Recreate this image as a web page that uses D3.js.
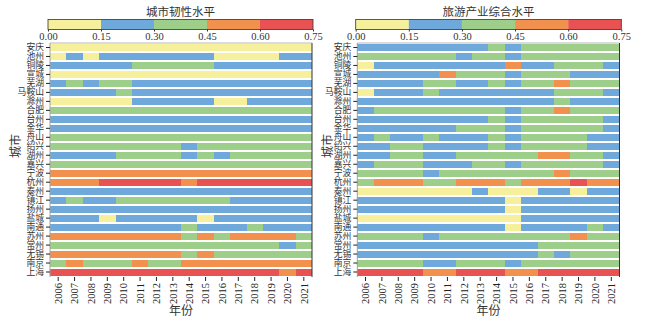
<!DOCTYPE html>
<html lang="zh">
  <head>
    <meta charset="utf-8" />
    <title>城市韧性与旅游产业</title>
    <style>
      body {
        margin: 0;
        background: #fff;
      }
      svg {
        display: block;
        font-family: "Liberation Serif", "Noto Sans CJK SC", serif;
      }
    </style>
  </head>
  <body>
    <svg width="650" height="322"></svg>
    <script src="https://d3js.org/d3.v7.min.js"></script>
    <script>
      const years = d3.range(2006, 2022).map(String);
      const cities = ["安庆", "池州", "铜陵", "宣城", "芜湖", "马鞍山", "滁州", "合肥", "台州", "金华", "舟山", "绍兴", "湖州", "嘉兴", "宁波", "杭州", "泰州", "镇江", "扬州", "盐城", "南通", "苏州", "常州", "无锡", "南京", "上海"];
      const levelBreaks = [0.15, 0.3, 0.45, 0.6];
      const levelColors = ["#f6ef9b", "#6fa9dc", "#9ecf8a", "#f2914d", "#e95252"];
      const colorTicks = [0, 0.15, 0.3, 0.45, 0.6, 0.75];

      // 城市韧性水平, one row per city, 2006-2021
      const resilience = [
        [.10,.10,.10,.10,.10,.10,.10,.10,.10,.10,.10,.10,.10,.10,.10,.10],
        [.10,.23,.10,.23,.23,.23,.23,.23,.23,.23,.10,.10,.10,.10,.23,.23],
        [.23,.23,.23,.23,.23,.37,.37,.37,.37,.37,.23,.23,.23,.23,.23,.23],
        [.10,.10,.10,.10,.10,.10,.10,.10,.10,.10,.10,.10,.10,.10,.10,.10],
        [.23,.37,.23,.37,.37,.23,.23,.23,.23,.23,.23,.23,.23,.23,.23,.23],
        [.23,.23,.23,.23,.37,.23,.23,.23,.23,.23,.23,.23,.23,.23,.23,.23],
        [.10,.10,.10,.10,.10,.23,.23,.23,.23,.23,.10,.10,.23,.23,.23,.23],
        [.37,.37,.37,.37,.37,.37,.37,.37,.37,.37,.37,.37,.37,.37,.37,.37],
        [.23,.23,.23,.23,.23,.23,.23,.23,.23,.23,.23,.23,.23,.23,.23,.23],
        [.23,.23,.23,.23,.23,.23,.23,.23,.23,.23,.23,.23,.23,.23,.23,.23],
        [.37,.37,.37,.37,.37,.37,.37,.37,.37,.37,.37,.37,.37,.37,.37,.37],
        [.37,.37,.37,.37,.37,.37,.37,.37,.23,.37,.37,.37,.37,.37,.37,.37],
        [.23,.23,.23,.23,.37,.37,.37,.37,.23,.37,.23,.37,.37,.37,.37,.37],
        [.37,.37,.37,.37,.37,.37,.37,.37,.37,.37,.37,.37,.37,.37,.37,.37],
        [.52,.52,.52,.52,.52,.52,.52,.52,.52,.52,.52,.52,.52,.52,.52,.52],
        [.52,.52,.52,.66,.66,.66,.66,.66,.52,.66,.66,.66,.66,.66,.66,.66],
        [.23,.23,.23,.23,.23,.23,.23,.23,.23,.23,.23,.23,.23,.23,.23,.23],
        [.23,.37,.23,.23,.37,.37,.37,.37,.37,.37,.37,.23,.23,.23,.23,.23],
        [.23,.23,.23,.23,.23,.23,.23,.23,.23,.23,.23,.23,.23,.23,.23,.23],
        [.23,.23,.23,.10,.23,.23,.23,.23,.23,.10,.23,.23,.23,.23,.23,.23],
        [.23,.23,.23,.23,.23,.23,.23,.23,.37,.23,.23,.23,.37,.23,.23,.23],
        [.52,.52,.52,.52,.52,.52,.52,.52,.37,.52,.37,.52,.52,.52,.52,.37],
        [.37,.37,.37,.37,.37,.37,.37,.37,.37,.37,.37,.37,.37,.37,.23,.37],
        [.52,.52,.52,.52,.52,.52,.52,.52,.37,.52,.37,.37,.37,.37,.37,.37],
        [.37,.52,.37,.37,.37,.52,.37,.37,.52,.52,.52,.52,.52,.52,.52,.52],
        [.66,.66,.66,.66,.66,.66,.66,.66,.66,.66,.66,.66,.66,.66,.52,.66]
      ];

      // 旅游产业综合水平, one row per city, 2006-2021
      const tourism = [
        [.23,.23,.23,.23,.23,.23,.23,.23,.37,.23,.37,.37,.37,.37,.37,.37],
        [.37,.37,.37,.37,.37,.37,.23,.37,.37,.23,.37,.37,.37,.37,.37,.37],
        [.10,.23,.23,.23,.23,.23,.23,.23,.23,.52,.23,.23,.37,.37,.37,.23],
        [.23,.23,.23,.23,.23,.52,.37,.37,.37,.23,.37,.37,.37,.23,.23,.23],
        [.23,.23,.23,.23,.37,.37,.23,.23,.37,.23,.37,.37,.52,.37,.37,.37],
        [.10,.23,.23,.23,.37,.23,.23,.23,.23,.23,.23,.23,.37,.37,.37,.23],
        [.23,.23,.23,.23,.23,.23,.23,.23,.23,.23,.23,.23,.37,.23,.23,.23],
        [.23,.37,.37,.37,.37,.37,.37,.37,.37,.23,.37,.37,.52,.37,.37,.37],
        [.23,.23,.23,.23,.23,.23,.23,.23,.37,.23,.37,.37,.37,.37,.37,.23],
        [.23,.23,.23,.23,.23,.23,.37,.37,.37,.23,.37,.37,.37,.37,.37,.23],
        [.23,.37,.23,.23,.37,.23,.23,.23,.37,.23,.37,.37,.37,.37,.23,.23],
        [.23,.23,.37,.37,.23,.23,.23,.23,.37,.23,.37,.37,.37,.37,.23,.23],
        [.23,.23,.37,.37,.23,.23,.37,.37,.37,.37,.37,.52,.52,.37,.37,.23],
        [.23,.37,.37,.37,.23,.23,.23,.37,.37,.23,.37,.37,.37,.37,.37,.23],
        [.37,.37,.37,.37,.23,.37,.37,.37,.37,.37,.37,.37,.52,.37,.37,.37],
        [.37,.52,.52,.52,.37,.37,.52,.52,.52,.37,.52,.52,.52,.66,.52,.52],
        [.10,.10,.10,.10,.10,.10,.10,.23,.10,.10,.10,.23,.23,.10,.23,.23],
        [.23,.23,.23,.23,.23,.23,.23,.23,.23,.10,.23,.23,.23,.23,.23,.23],
        [.23,.23,.23,.23,.23,.23,.23,.23,.23,.10,.23,.23,.23,.23,.23,.23],
        [.10,.10,.10,.10,.10,.10,.10,.10,.10,.10,.23,.23,.23,.23,.23,.23],
        [.23,.23,.23,.23,.23,.23,.23,.23,.23,.10,.23,.23,.23,.23,.37,.23],
        [.37,.37,.37,.37,.23,.37,.37,.37,.37,.37,.37,.37,.37,.52,.37,.37],
        [.23,.23,.23,.23,.23,.23,.23,.23,.23,.23,.23,.37,.37,.37,.37,.37],
        [.23,.23,.23,.23,.23,.23,.23,.23,.23,.23,.23,.37,.23,.37,.37,.37],
        [.37,.37,.37,.37,.23,.23,.37,.37,.37,.23,.37,.37,.37,.37,.37,.37],
        [.66,.66,.66,.66,.52,.52,.66,.66,.66,.52,.52,.66,.66,.66,.66,.66]
      ];

      const svg = d3.select("svg");
      const color = d3.scaleThreshold().domain(levelBreaks).range(levelColors);
      const serif = "'Liberation Serif', serif";
      const cjk = "'Noto Sans CJK SC', sans-serif";

      drawPanel({
        values: resilience,
        title: "城市韧性水平",
        plotX: [50, 312],
        barX: [48, 313],
        yTitleX: 16,
      });
      drawPanel({
        values: tourism,
        title: "旅游产业综合水平",
        plotX: [357.3, 619.5],
        barX: [355.7, 621.3],
        yTitleX: 328,
      });

      function drawPanel(opt) {
        const top = 43;
        const bottom = 276.5;
        const g = svg.append("g");

        const x = d3.scaleBand().domain(years).range(opt.plotX);
        const y = d3
          .scaleBand()
          .domain(cities)
          .range([top, bottom])
          .paddingInner(0.22)
          .paddingOuter(0.11);

        // cells
        const cells = [];
        opt.values.forEach((row, i) =>
          row.forEach((v, j) =>
            cells.push({ city: cities[i], year: years[j], v: v })
          )
        );
        g.append("g")
          .selectAll("rect")
          .data(cells)
          .join("rect")
          .attr("x", (d) => x(d.year))
          .attr("y", (d) => y(d.city))
          .attr("width", x.bandwidth() + 0.4)
          .attr("height", y.bandwidth())
          .attr("fill", (d) => color(d.v))
          .attr("shape-rendering", "crispEdges");

        // frame
        g.append("line")
          .attr("x1", opt.plotX[0]).attr("x2", opt.plotX[1])
          .attr("y1", top).attr("y2", top)
          .attr("stroke", "#b8b8b8");
        g.append("line")
          .attr("x1", opt.plotX[0]).attr("x2", opt.plotX[0])
          .attr("y1", top).attr("y2", bottom + 0.5)
          .attr("stroke", "#a0a0a0");
        g.append("line")
          .attr("x1", opt.plotX[1]).attr("x2", opt.plotX[1])
          .attr("y1", top).attr("y2", bottom + 0.5)
          .attr("stroke", "#333");

        // y axis
        const yAxis = g
          .append("g")
          .attr("transform", `translate(${opt.plotX[0]},0)`)
          .call(d3.axisLeft(y).tickSize(4).tickPadding(2));
        yAxis.select(".domain").remove();
        yAxis.attr("font-family", cjk);
        yAxis.selectAll("line").attr("stroke", "#222");
        yAxis
          .selectAll("text")
          .attr("font-size", 8.8)
          .attr("fill", "#333");

        g.append("text")
          .attr("transform", `translate(${opt.yTitleX},146) rotate(-90)`)
          .attr("text-anchor", "middle")
          .attr("dy", "0.35em")
          .attr("font-size", 12)
          .attr("fill", "#333")
          .attr("font-family", cjk)
          .text("城市");

        // x axis
        const xAxis = g
          .append("g")
          .attr("transform", `translate(0,${bottom + 0.5})`)
          .call(d3.axisBottom(x).tickSize(4).tickPadding(2));
        xAxis.select(".domain").remove();
        xAxis.attr("font-family", serif);
        xAxis.selectAll("line").attr("stroke", "#222");
        xAxis
          .selectAll("text")
          .attr("font-size", 10.5)
          .attr("fill", "#222")
          .attr("text-anchor", "end")
          .attr("transform", "rotate(-90)")
          .attr("x", -6)
          .attr("y", 0)
          .attr("dy", "0.35em");

        g.append("text")
          .attr("x", (opt.plotX[0] + opt.plotX[1]) / 2)
          .attr("y", 311)
          .attr("text-anchor", "middle")
          .attr("dy", "0.35em")
          .attr("font-size", 12)
          .attr("fill", "#333")
          .attr("font-family", cjk)
          .text("年份");

        // colour bar
        const cb = d3.scaleLinear().domain([0, 0.75]).range(opt.barX);
        const segs = d3.pairs(colorTicks);
        const cbTop = 19.5;
        const cbH = 10;
        g.append("g")
          .selectAll("rect")
          .data(segs)
          .join("rect")
          .attr("x", (d) => cb(d[0]))
          .attr("y", cbTop)
          .attr("width", (d) => cb(d[1]) - cb(d[0]))
          .attr("height", cbH)
          .attr("fill", (d) => color((d[0] + d[1]) / 2));
        g.append("rect")
          .attr("x", opt.barX[0])
          .attr("y", cbTop)
          .attr("width", opt.barX[1] - opt.barX[0])
          .attr("height", cbH)
          .attr("fill", "none")
          .attr("stroke", "#333")
          .attr("stroke-width", 0.8);
        const cbAxis = g
          .append("g")
          .attr("transform", `translate(0,${cbTop + cbH})`)
          .call(
            d3
              .axisBottom(cb)
              .tickValues(colorTicks)
              .tickFormat(d3.format(".2f"))
              .tickSize(2)
              .tickPadding(1)
          );
        cbAxis.select(".domain").remove();
        cbAxis.attr("font-family", serif);
        cbAxis.selectAll("line").attr("stroke", "#333");
        cbAxis.selectAll("text").attr("font-size", 10.5).attr("fill", "#333");

        g.append("text")
          .attr("x", (opt.barX[0] + opt.barX[1]) / 2)
          .attr("y", 12)
          .attr("text-anchor", "middle")
          .attr("dy", "0.35em")
          .attr("font-size", 11.5)
          .attr("fill", "#333")
          .attr("font-family", cjk)
          .text(opt.title);
      }
    </script>
  </body>
</html>
